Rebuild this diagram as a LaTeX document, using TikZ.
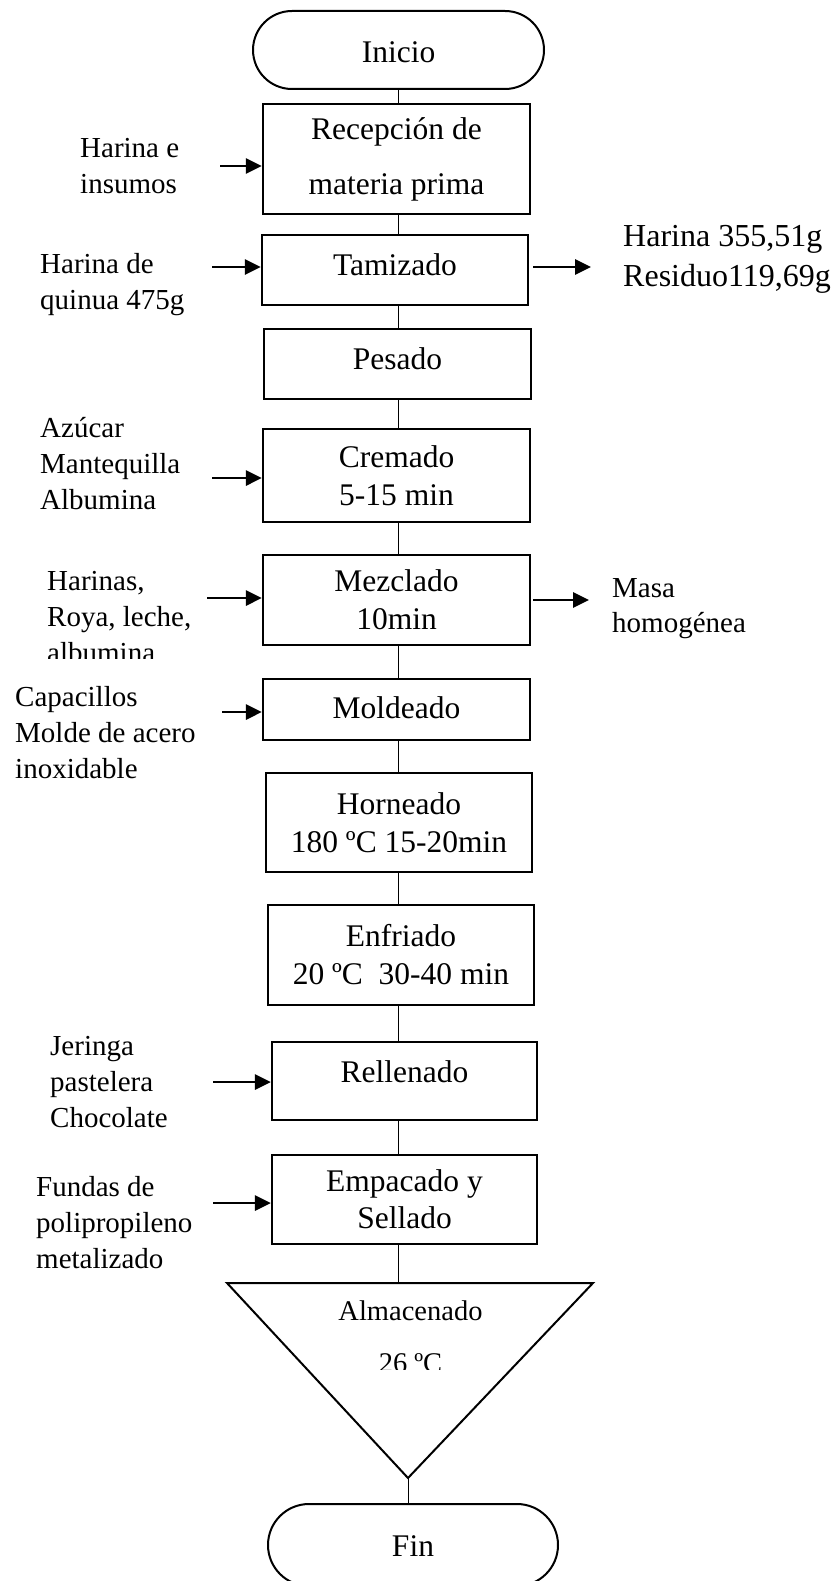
\documentclass[tikz,border=0pt]{standalone}
\usepackage{fontspec}
\setmainfont{Liberation Serif}
\usetikzlibrary{arrows.meta}
\newcommand\bxfont{\fontsize{31.5}{38}\selectfont}
\newcommand\lbfont{\fontsize{29}{36}\selectfont}
\tikzset{
  proc/.style={draw, line width=2.2pt, inner sep=0pt, minimum width=267pt, align=center, font=\bxfont},
  term/.style={draw, line width=2pt, inner sep=0pt, font=\bxfont},
  lbl/.style={inner sep=0pt, anchor=north west, align=left, font=\lbfont},
  conn/.style={line width=1pt},
  arr/.style={line width=2.9pt, -{Triangle[length=16pt,width=15pt]}},
  tri/.style={line width=2pt, line join=miter}
}
\begin{document}
\begin{tikzpicture}[x=1pt,y=-1pt]
\fill[white] (0,0) rectangle (836,1581);
\useasboundingbox (0,0) rectangle (836,1581);
\coordinate (axis) at (398,0);

% terminals
\node[term, rounded corners=39pt, minimum width=291pt, minimum height=78pt, text height=30pt, text depth=4pt] (inicio) at (398.5,50) {Inicio};
\node[term, rounded corners=41pt, minimum width=290pt, minimum height=82pt, text height=26pt, text depth=4pt] (fin) at (413,1545) {Fin};

% process boxes
\node[proc, minimum height=110pt] (recep) at (396.5,159) {Recepción de\\[17pt]materia prima};
\node[proc, minimum width=266pt, minimum height=70pt, text height=22pt, text depth=12pt] (tamiz) at (395,270) {Tamizado};
\node[proc, minimum height=70pt, text height=22pt, text depth=12pt] (pesado) at (397.5,364) {Pesado};
\node[proc, minimum height=93pt] (crem) at (396.5,475.5) {Cremado\\5-15 min};
\node[proc, minimum height=90pt] (mezcl) at (396.5,600) {Mezclado\\10min};
\node[proc, minimum height=61pt, text height=22pt, text depth=5pt] (mold) at (396.5,709.5) {Moldeado};
\node[proc, minimum width=266pt, minimum height=99pt] (horn) at (399,822.5) {Horneado\\180 ºC 15-20min};
\node[proc, minimum width=266pt, minimum height=100pt] (enfr) at (401,955) {Enfriado\\20 ºC~ 30-40 min};
\node[proc, minimum width=265pt, minimum height=78pt, text height=22pt, text depth=20pt] (rell) at (404.5,1081) {Rellenado};
\node[proc, minimum width=265pt, minimum height=89pt] (emp) at (404.5,1199.5) {Empacado y\\[-1pt]Sellado};

% storage triangle
\coordinate (tl) at (227,1283);
\coordinate (tr) at (593,1283);
\coordinate (apex) at (408,1478);
\draw[tri] (tl) -- (tr) -- (apex) -- cycle;
\begin{scope}
  \clip (300,1286) rectangle (520,1369);
  \node[inner sep=0pt, anchor=north, align=center, font=\fontsize{28.5}{52}\selectfont] (alm) at (410.5,1284) {Almacenado\strut\\26 ºC\strut};
\end{scope}

% connectors
\draw[conn] (inicio.south -| axis) -- (recep.north -| axis);
\draw[conn] (recep.south -| axis) -- (tamiz.north -| axis);
\draw[conn] (tamiz.south -| axis) -- (pesado.north -| axis);
\draw[conn] (pesado.south -| axis) -- (crem.north -| axis);
\draw[conn] (crem.south -| axis) -- (mezcl.north -| axis);
\draw[conn] (mezcl.south -| axis) -- (mold.north -| axis);
\draw[conn] (mold.south -| axis) -- (horn.north -| axis);
\draw[conn] (horn.south -| axis) -- (enfr.north -| axis);
\draw[conn] (enfr.south -| axis) -- (rell.north -| axis);
\draw[conn] (rell.south -| axis) -- (emp.north -| axis);
\draw[conn] (emp.south -| axis) -- (tl -| axis);
\draw[conn] (apex) -- (apex |- fin.north);

% input / output arrows
\coordinate (i1) at (220,166);
\draw[arr] (i1) -- (i1 -| recep.west);
\coordinate (i2) at (212,267);
\draw[arr] (i2) -- (i2 -| tamiz.west);
\coordinate (o2) at (591,267);
\draw[arr, shorten <=4pt] (o2 -| tamiz.east) -- (o2);
\coordinate (i3) at (212,478);
\draw[arr] (i3) -- (i3 -| crem.west);
\coordinate (i4) at (207,598);
\draw[arr] (i4) -- (i4 -| mezcl.west);
\coordinate (o4) at (589,600);
\draw[arr, shorten <=2pt] (o4 -| mezcl.east) -- (o4);
\coordinate (i5) at (222,712);
\draw[arr] (i5) -- (i5 -| mold.west);
\coordinate (i6) at (213,1082);
\draw[arr] (i6) -- (i6 -| rell.west);
\coordinate (i7) at (213,1203);
\draw[arr] (i7) -- (i7 -| emp.west);

% side labels
\node[lbl] (l1) at (80,131.8) {Harina e\strut\\insumos\strut};
\node[lbl] (l2) at (40,247.8) {Harina de\strut\\quinua 475g\strut};
\node[lbl] (l3) at (40,411.8) {Azúcar\strut\\Mantequilla\strut\\Albumina\strut};
\begin{scope}
  \clip (0,555) rectangle (262,658);
  \node[lbl] (l4) at (47,564.8) {Harinas,\strut\\Roya, leche,\strut\\albumina\strut};
\end{scope}
\node[lbl] (l5) at (15,680.8) {Capacillos\strut\\Molde de acero\strut\\inoxidable\strut};
\node[lbl] (l6) at (50,1029.8) {Jeringa\strut\\pastelera\strut\\Chocolate\strut};
\node[lbl] (l7) at (36,1170.8) {Fundas de\strut\\polipropileno\strut\\metalizado\strut};
\node[lbl, font=\fontsize{32}{40}\selectfont] (r1) at (623,218) {Harina 355,51g\strut\\Residuo119,69g\strut};
\node[lbl, font=\fontsize{29}{35}\selectfont] (r2) at (612,572.5) {Masa\strut\\homogénea\strut};
\end{tikzpicture}
\end{document}
